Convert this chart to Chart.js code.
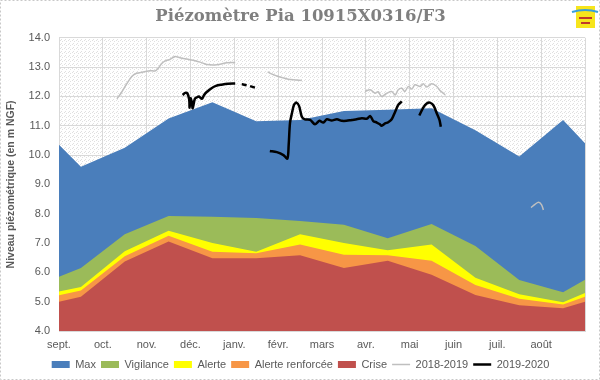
<!DOCTYPE html>
<html>
<head>
<meta charset="utf-8">
<title>Piézomètre Pia 10915X0316/F3</title>
<script src="https://cdn.jsdelivr.net/npm/chart.js@4.4.1/dist/chart.umd.min.js"></script>
<style>
  html, body { margin: 0; padding: 0; background: #fff; }
  #wrap { width: 600px; height: 380px; position: relative; }
</style>
</head>
<body>
<div id="wrap"><canvas id="piezoChart"></canvas></div>
<script>
// month labels (hydrological year sept -> août), x in months since 1 sept
const monthLabels = ['sept.', 'oct.', 'nov.', 'déc.', 'janv.', 'févr.', 'mars', 'avr.', 'mai', 'juin', 'juil.', 'août'];
const yTicks = { min: 4, max: 14, step: 1 };

// threshold curves (one value per mid-month + both ends)
const thresholdX = [0, 0.5, 1.5, 2.5, 3.5, 4.5, 5.5, 6.5, 7.5, 8.5, 9.5, 10.5, 11.5, 12];
const maxValues = [10.35, 9.6, 10.25, 11.25, 11.8, 11.15, 11.2, 11.5, 11.55, 11.6, 10.85, 9.95, 11.2, 10.4];
const vigilanceValues = [5.85, 6.15, 7.3, 7.92, 7.9, 7.85, 7.75, 7.62, 7.16, 7.65, 6.9, 5.74, 5.32, 5.75];
const alerteValues = [5.35, 5.5, 6.72, 7.42, 7.0, 6.7, 7.3, 7.0, 6.75, 6.95, 5.82, 5.25, 4.98, 5.3];
const alerteRenfValues = [5.22, 5.38, 6.55, 7.25, 6.7, 6.65, 6.95, 6.6, 6.58, 6.4, 5.57, 5.1, 4.9, 5.17];
const criseValues = [5.0, 5.17, 6.37, 7.05, 6.48, 6.48, 6.58, 6.15, 6.4, 5.92, 5.23, 4.88, 4.78, 5.0];

// measured levels (null = no data)
const line1819X = [1.32, 1.41, 1.54, 1.66, 1.77, 1.92, 2.08, 2.19, 2.27, 2.34, 2.44, 2.53, 2.65, 2.76, 2.99, 3.22, 3.37, 3.60, 3.83, 4.02,
  4.4, 4.76, 4.86, 5.00, 5.23, 5.42, 5.54,
  6.3, 6.98, 7.10, 7.21, 7.28, 7.36, 7.48, 7.59, 7.67, 7.74, 7.82, 7.89, 7.97, 8.05, 8.12, 8.24, 8.31, 8.39, 8.50, 8.62, 8.69, 8.77, 8.81,
  9.8, 10.77, 10.86, 10.94, 11.01, 11.05];
const line1819Y = [11.92, 12.10, 12.42, 12.68, 12.79, 12.83, 12.88, 12.87, 12.97, 13.12, 13.22, 13.26, 13.36, 13.32, 13.25, 13.17, 13.09, 13.08, 13.15, 13.16,
  null, 12.84, 12.76, 12.68, 12.59, 12.56, 12.54,
  null, 12.17, 12.23, 12.11, 12.16, 12.00, 12.11, 12.17, 12.05, 12.23, 12.28, 12.17, 12.34, 12.25, 12.40, 12.34, 12.43, 12.32, 12.43, 12.34, 12.20, 12.11, 12.05,
  null, 8.21, 8.32, 8.39, 8.30, 8.13];

const line1920X = [2.82, 2.88, 2.93, 2.97, 2.98, 3.00, 3.03, 3.05, 3.10, 3.16, 3.19, 3.26, 3.31, 3.37, 3.48, 3.58, 3.71, 3.86, 4.02,
  4.09, 4.17, 4.28, 4.32, 4.36, 4.47,
  4.6, 4.81, 4.97, 5.12, 5.21, 5.24, 5.27, 5.31, 5.36, 5.42, 5.48, 5.54, 5.61, 5.73, 5.84, 5.94, 6.03, 6.11, 6.22, 6.34, 6.45, 6.56, 6.68, 6.79, 6.91, 7.02, 7.10, 7.17, 7.25, 7.32, 7.36, 7.44, 7.51, 7.59, 7.67, 7.74, 7.82,
  8.0, 8.22, 8.31, 8.39, 8.46, 8.54, 8.62, 8.68, 8.71];
const line1920Y = [12.05, 12.12, 12.10, 11.90, 11.62, 11.94, 11.80, 11.60, 11.92, 11.98, 12.00, 11.92, 12.05, 12.15, 12.28, 12.36, 12.40, 12.43, 12.44,
  null, 12.42, 12.38, null, 12.35, 12.30,
  null, 10.14, 10.10, 10.00, 9.88, 10.35, 11.10, 11.40, 11.71, 11.79, 11.66, 11.31, 11.22, 11.20, 11.05, 11.17, 11.11, 11.22, 11.18, 11.22, 11.17, 11.17, 11.20, 11.22, 11.26, 11.24, 11.33, 11.16, 11.11, 11.05, 11.00, 11.08, 11.12, 11.22, 11.48, 11.71, 11.83,
  null, 11.35, 11.62, 11.76, 11.79, 11.70, 11.42, 11.20, 10.97];

function toPoints(xs, ys) {
  return xs.map((x, i) => ({ x: x, y: ys[i] }));
}

function area(label, ys, color, order) {
  return {
    label: label,
    data: toPoints(thresholdX, ys),
    backgroundColor: color,
    borderColor: color,
    borderWidth: 0,
    pointRadius: 0,
    fill: 'start',
    order: order,
    legendStyle: 'rect'
  };
}

// speckled plot background like the excel texture
function makeSpeckle(ctx) {
  const c = document.createElement('canvas');
  c.width = 4; c.height = 4;
  const p = c.getContext('2d');
  p.fillStyle = '#ffffff';
  p.fillRect(0, 0, 4, 4);
  p.fillStyle = '#e0e0e0';
  p.fillRect(0, 0, 1, 1);
  p.fillRect(2, 1, 1, 1);
  p.fillRect(1, 3, 1, 1);
  return ctx.createPattern(c, 'repeat');
}

const decorPlugin = {
  id: 'decor',
  afterLayout(chart) {
    // excel centres title and legend on the whole frame, not on the padded area
    const shift = 8;
    [chart.titleBlock, chart.legend].forEach((b) => {
      if (b) { b.left += shift; b.right += shift; }
    });
  },
  beforeDraw(chart) {
    const { ctx, chartArea: a } = chart;
    ctx.save();
    ctx.fillStyle = makeSpeckle(ctx);
    ctx.fillRect(a.left, a.top, a.right - a.left, a.bottom - a.top);
    ctx.restore();
  },
  afterDraw(chart) {
    const ctx = chart.ctx;
    ctx.save();
    // dotted frame round the whole chart
    ctx.strokeStyle = '#c8c8c8';
    ctx.lineWidth = 1;
    ctx.setLineDash([2, 2]);
    ctx.strokeRect(0.5, 0.5, chart.width - 1, chart.height - 1);
    ctx.setLineDash([]);
    // little yellow logo top right
    ctx.fillStyle = '#f7e51c';
    ctx.fillRect(576, 6, 19, 22);
    ctx.strokeStyle = '#3aa0d8';
    ctx.lineWidth = 2;
    ctx.beginPath();
    ctx.moveTo(572, 12);
    ctx.quadraticCurveTo(585, 8, 598, 12);
    ctx.stroke();
    ctx.fillStyle = '#c0392b';
    ctx.fillRect(579, 17, 13, 2);
    ctx.fillRect(581, 22, 9, 2);
    ctx.restore();
  }
};

const ctx = document.getElementById('piezoChart').getContext('2d');
new Chart(ctx, {
  type: 'line',
  data: {
    datasets: [
      area('Max', maxValues, '#4a7ebb', 10),
      area('Vigilance', vigilanceValues, '#9bbb59', 9),
      area('Alerte', alerteValues, '#ffff00', 8),
      area('Alerte renforcée', alerteRenfValues, '#f79646', 7),
      area('Crise', criseValues, '#c0504d', 6),
      {
        label: '2018-2019',
        data: toPoints(line1819X, line1819Y),
        borderColor: '#bfbfbf',
        backgroundColor: '#bfbfbf',
        borderWidth: 1.5,
        pointRadius: 0,
        tension: 0.3,
        spanGaps: false,
        fill: false,
        order: 2,
        legendStyle: 'line'
      },
      {
        label: '2019-2020',
        data: toPoints(line1920X, line1920Y),
        borderColor: '#000000',
        backgroundColor: '#000000',
        borderWidth: 2.5,
        pointRadius: 0,
        tension: 0.3,
        spanGaps: false,
        fill: false,
        order: 1,
        legendStyle: 'line'
      }
    ]
  },
  options: {
    responsive: true,
    maintainAspectRatio: false,
    animation: false,
    events: [],
    layout: { padding: { left: 0, right: 15, top: 0, bottom: 0 } },
    scales: {
      x: {
        type: 'linear',
        min: 0,
        max: 12,
        afterBuildTicks(scale) {
          scale.ticks = monthLabels.map((m, i) => ({ value: i })).concat([{ value: 12 }]);
        },
        afterFit(scale) { scale.height = 23; },
        ticks: {
          autoSkip: false,
          maxRotation: 0,
          padding: 7,
          color: '#595959',
          font: { family: 'Liberation Sans', size: 11 },
          callback: (v) => monthLabels[v] || ''
        },
        grid: { color: '#d9d9d9', drawTicks: false },
        border: { color: '#d9d9d9' }
      },
      y: {
        min: yTicks.min,
        max: yTicks.max,
        afterFit(scale) { scale.width = 59; },
        ticks: {
          stepSize: yTicks.step,
          padding: 9,
          color: '#595959',
          font: { family: 'Liberation Sans', size: 11 },
          callback: (v) => v.toFixed(1)
        },
        grid: { color: '#d9d9d9', drawTicks: false },
        border: { color: '#d9d9d9' },
        title: {
          display: true,
          text: 'Niveau piézométrique (en m NGF)',
          color: '#595959',
          font: { family: 'Liberation Sans', size: 10.5, weight: 'bold' },
          padding: { top: 5, bottom: 0 }
        }
      }
    },
    plugins: {
      title: {
        display: true,
        text: 'Piézomètre Pia 10915X0316/F3',
        color: '#7f7f7f',
        font: { family: 'DejaVu Serif', size: 16.5, weight: 'bold' },
        padding: { top: 7, bottom: 11 }
      },
      legend: {
        position: 'bottom',
        maxHeight: 26,
        labels: {
          usePointStyle: true,
          pointStyleWidth: 18,
          boxHeight: 7,
          padding: 5,
          color: '#595959',
          font: { family: 'Liberation Sans', size: 11 },
          generateLabels(chart) {
            return chart.data.datasets.map((ds, i) => ({
              text: ds.label,
              datasetIndex: i,
              fillStyle: ds.backgroundColor,
              strokeStyle: ds.borderColor,
              lineWidth: ds.legendStyle === 'line' ? ds.borderWidth : 0,
              pointStyle: ds.legendStyle,
              fontColor: '#595959',
              hidden: false
            }));
          }
        }
      },
      tooltip: { enabled: false }
    }
  },
  plugins: [decorPlugin]
});
</script>
</body>
</html>
